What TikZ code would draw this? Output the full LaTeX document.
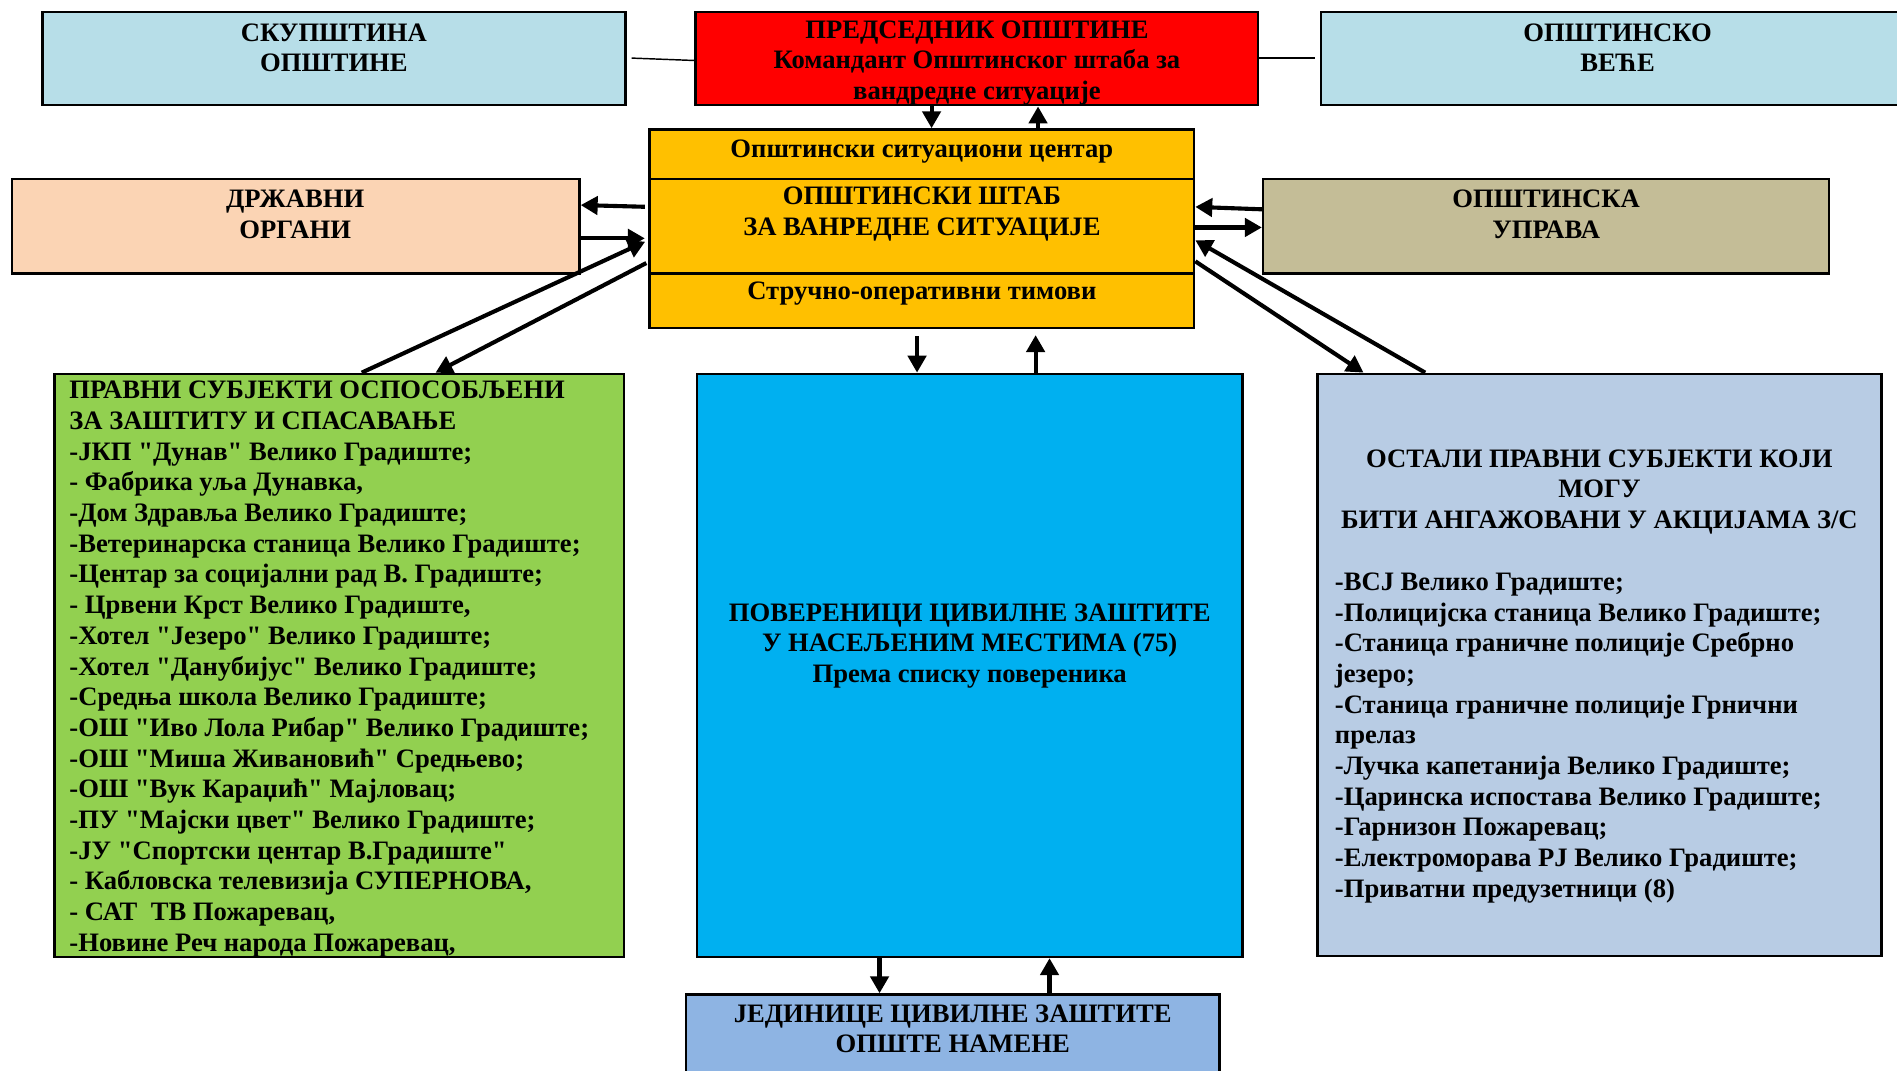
\documentclass[tikz,border=0pt]{standalone}
\usepackage{fontspec}
\setmainfont{Liberation Serif}[Ligatures=TeXOff]
\usetikzlibrary{arrows.meta,fit}
\definecolor{cSkup}{HTML}{B7DEE8}
\definecolor{cPred}{HTML}{FF0000}
\definecolor{cOrange}{HTML}{FFC000}
\definecolor{cPeach}{HTML}{FBD4B4}
\definecolor{cKhaki}{HTML}{C4BD97}
\definecolor{cGreen}{HTML}{92D050}
\definecolor{cCyan}{HTML}{00B0F0}
\definecolor{cSteel}{HTML}{B8CCE4}
\definecolor{cBottom}{HTML}{8EB4E3}
\newcommand{\dq}{\symbol{34}}
\begin{document}
\begin{tikzpicture}[x=0.5pt,y=-0.5pt,
  box/.style={draw=black,line width=1pt,inner sep=0pt},
  txt/.style={font=\fontsize{11.0}{12.68}\selectfont\bfseries,inner sep=0pt,align=center,yshift=-1.5pt},
  ltxt/.style={txt,align=left,anchor=west},
  arr/.style={line width=1.7pt,-{Triangle[length=7pt,width=7.5pt]}},
  thinline/.style={line width=0.6pt}]
\useasboundingbox (0,0) rectangle (1568,884.5);
% boxes
\node[box,fill=cSkup,fit={(35,10) (517,87)}] (skup) {};
\node[box,fill=cPred,fit={(575,10) (1040,87)}] (pred) {};
\node[box,fill=cSkup,fit={(1092,10) (1583,87)}] (vece) {};
\node[box,fill=cOrange,fit={(537,107) (987,148)}] (sit) {};
\node[box,fill=cOrange,fit={(537,148) (987,226)}] (shtab) {};
\node[box,fill=cOrange,fit={(537,226) (987,271)}] (struc) {};
\node[box,fill=cPeach,fit={(10,148) (479,226)}] (drz) {};
\node[box,fill=cKhaki,fit={(1044,148) (1512,226)}] (upr) {};
\node[box,fill=cGreen,fit={(45,309) (516,791)}] (green) {};
\node[box,fill=cCyan,fit={(576,309) (1027,791)}] (blue) {};
\node[box,fill=cSteel,fit={(1089,309) (1555,790)}] (steel) {};
\node[box,fill=cBottom,fit={(567,822) (1008,900)}] (bot) {};
% texts
\node[txt] (skupT) at (276,36.5) {СКУПШТИНА\\ОПШТИНЕ};
\node[txt] (predT) at (807.5,49) {ПРЕДСЕДНИК ОПШТИНЕ\\Командант Општинског штаба за\\вандредне ситуације};
\node[txt] (veceT) at (1337,36.5) {ОПШТИНСКО\\ВЕЋЕ};
\node[txt] (sitT) at (762,122) {Општински ситуациони центар};
\node[txt] (shtabT) at (762,174) {ОПШТИНСКИ ШТАБ\\ЗА ВАНРЕДНЕ СИТУАЦИЈЕ};
\node[txt] (strucT) at (762,240) {Стручно-оперативни тимови};
\node[txt] (drzT) at (244,174) {ДРЖАВНИ\\ОРГАНИ};
\node[txt] (uprT) at (1278,174) {ОПШТИНСКА\\УПРАВА};
\node[ltxt] (greenT) at (57,550) {ПРАВНИ СУБЈЕКТИ ОСПОСОБЉЕНИ\\
ЗА ЗАШТИТУ И СПАСАВАЊЕ\\
-ЈКП \dq Дунав\dq{} Велико Градиште;\\
- Фабрика уља Дунавка,\\
-Дом Здравља Велико Градиште;\\
-Ветеринарска станица Велико Градиште;\\
-Центар за социјални рад В. Градиште;\\
- Црвени Крст Велико Градиште,\\
-Хотел \dq Језеро\dq{} Велико Градиште;\\
-Хотел \dq Данубијус\dq{} Велико Градиште;\\
-Средња школа Велико Градиште;\\
-ОШ \dq Иво Лола Рибар\dq{} Велико Градиште;\\
-ОШ \dq Миша Живановић\dq{} Средњево;\\
-ОШ \dq Вук Караџић\dq{} Мајловац;\\
-ПУ \dq Мајски цвет\dq{} Велико Градиште;\\
-ЈУ \dq Спортски центар В.Градиште\dq\\
- Кабловска телевизија СУПЕРНОВА,\\
- САТ\ \ ТВ Пожаревац,\\
-Новине Реч народа Пожаревац,};
\node[txt] (blueT) at (801.5,531) {ПОВЕРЕНИЦИ ЦИВИЛНЕ ЗАШТИТЕ\\У НАСЕЉЕНИМ МЕСТИМА (75)\\Према списку повереника};
\node[txt] (steelH) at (1322,403.5) {ОСТАЛИ ПРАВНИ СУБЈЕКТИ КОЈИ\\МОГУ\\БИТИ АНГАЖОВАНИ У АКЦИЈАМА З/С};
\node[ltxt] (steelT) at (1103,607) {-ВСЈ Велико Градиште;\\
-Полицијска станица Велико Градиште;\\
-Станица граничне полиције Сребрно\\
језеро;\\
-Станица граничне полиције Грнични\\
прелаз\\
-Лучка капетанија Велико Градиште;\\
-Царинска испостава Велико Градиште;\\
-Гарнизон Пожаревац;\\
-Електроморава РЈ Велико Градиште;\\
-Приватни предузетници (8)};
\node[txt] (botT) at (787.5,847.5) {ЈЕДИНИЦЕ ЦИВИЛНЕ ЗАШТИТЕ\\ОПШТЕ НАМЕНЕ};
% thin connectors
\draw[thinline] ([xshift=2pt]skup.east |- 0,48) -- (pred.west |- 0,50);
\draw[thinline] (pred.east |- 0,48) -- ([xshift=-2pt]vece.west |- 0,48);
% vertical arrows
\draw[arr] (770,0 |- pred.south) -- (770,0 |- sit.north);
\draw[arr] (858,0 |- sit.north) -- (858,0 |- pred.south);
\draw[arr,shorten <=3pt] (758,0 |- struc.south) -- (758,0 |- blue.north);
\draw[arr,shorten >=2.5pt] (856,0 |- blue.north) -- (856,0 |- struc.south);
\draw[arr] (727,0 |- blue.south) -- (727,0 |- bot.north);
\draw[arr] (867.5,0 |- bot.north) -- (867.5,0 |- blue.south);
% horizontal arrows
\draw[arr,shorten <=1.5pt] (shtab.west |- 0,171) -- (drz.east |- 0,169.5);
\draw[arr,shorten >=1.5pt] (drz.east |- 0,197) -- (shtab.west |- 0,197);
\draw[arr] (upr.west |- 0,173) -- (shtab.east |- 0,171);
\draw[arr] (shtab.east |- 0,188) -- (upr.west |- 0,188);
% diagonal arrows
\draw[arr,shorten >=1.5pt] (299,0 |- green.north) -- (shtab.west |- 0,198.5);
\draw[arr,shorten <=1pt] (shtab.west |- 0,216.5) -- (360,0 |- green.north);
\draw[arr] (shtab.east |- 0,216) -- (1127,0 |- steel.north);
\draw[arr] (1178,0 |- steel.north) -- (shtab.east |- 0,198.5);
\end{tikzpicture}
\end{document}
